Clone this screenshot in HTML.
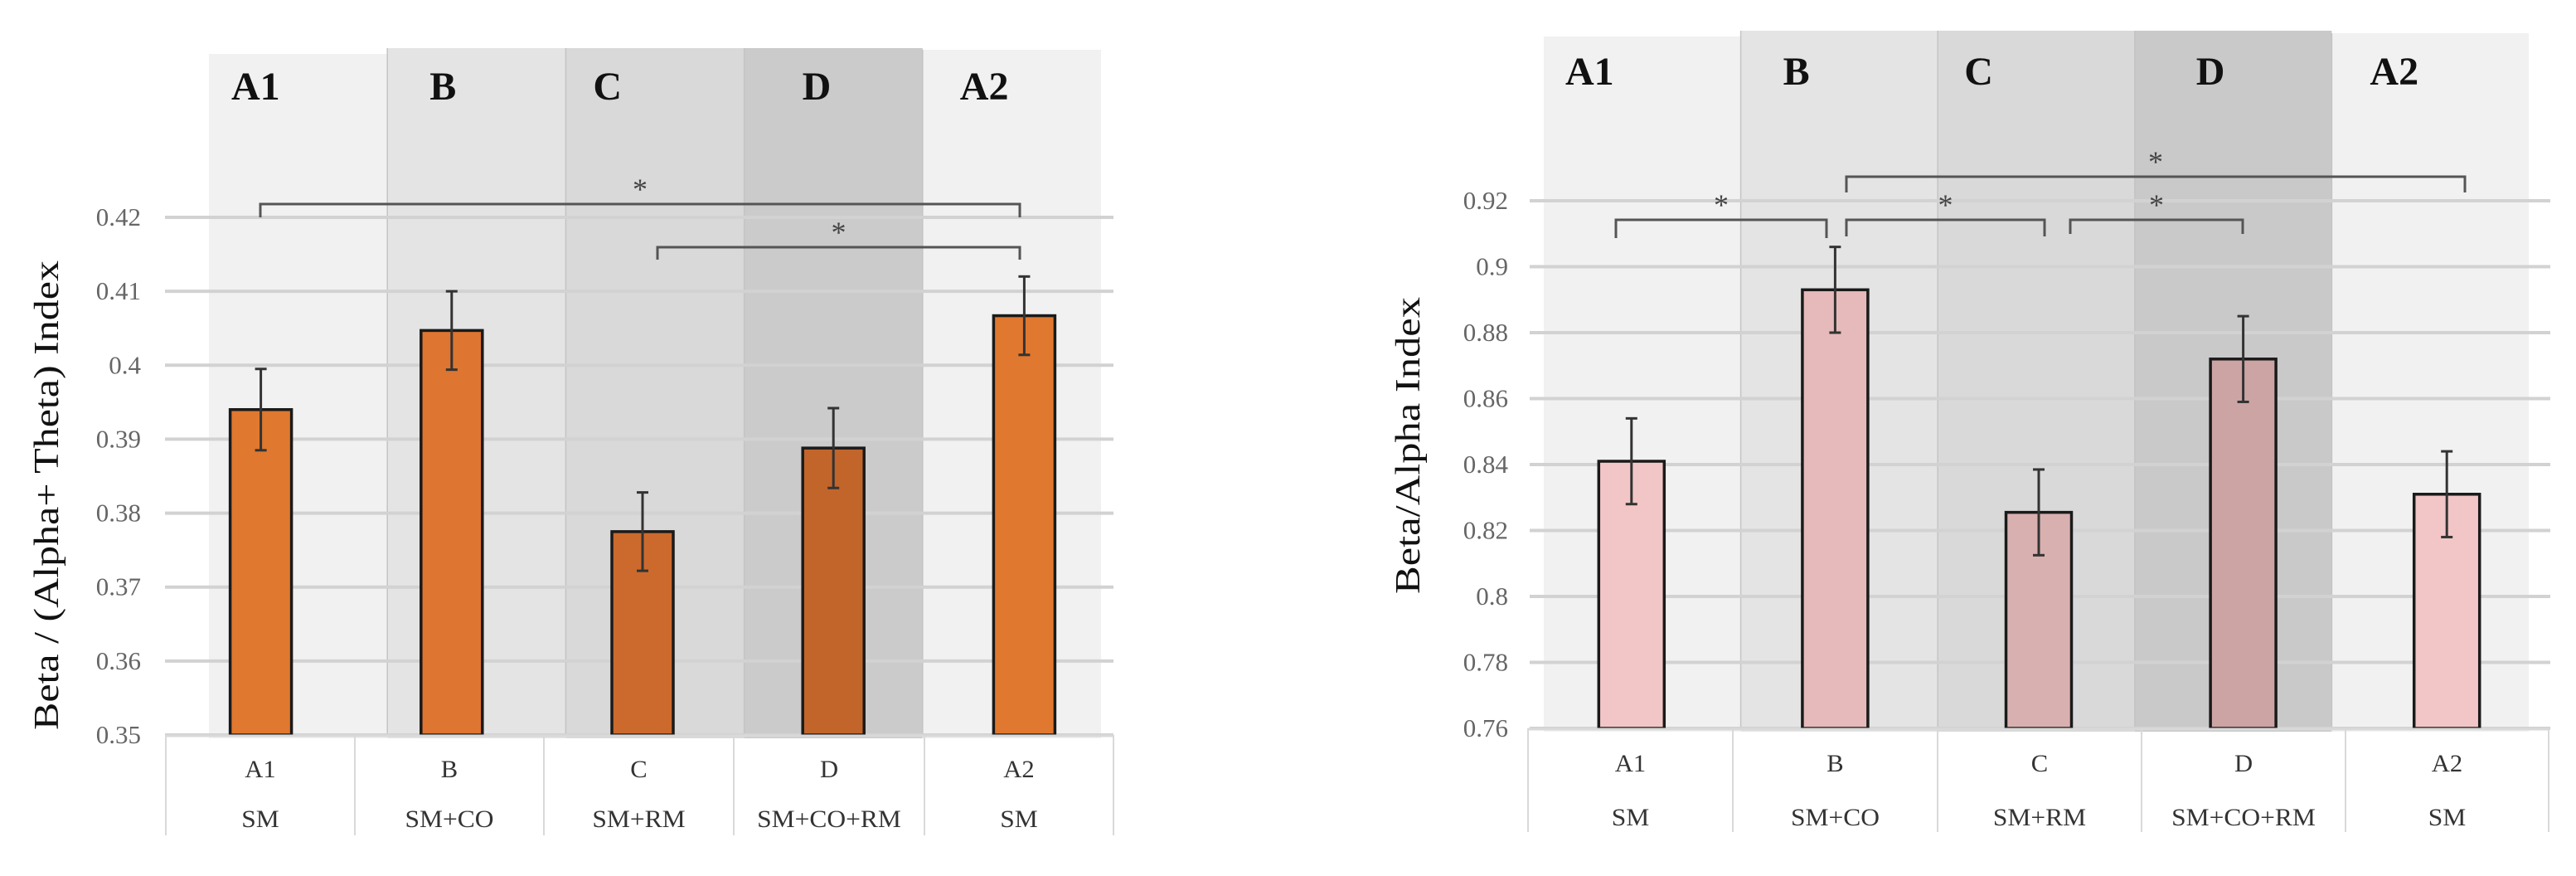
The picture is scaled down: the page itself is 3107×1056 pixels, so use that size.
<!DOCTYPE html>
<html><head><meta charset="utf-8">
<style>
html,body{margin:0;padding:0;background:#fff;}
svg{display:block;font-family:"Liberation Serif",serif;}
</style></head>
<body>
<svg id="svg" width="3107" height="1056" viewBox="0 0 3107 1056" xmlns="http://www.w3.org/2000/svg"></svg>
<script>
// ---- data ----
const categories = ["A1","B","C","D","A2"];
const conditions = ["SM","SM+CO","SM+RM","SM+CO+RM","SM"];
const leftValues = [0.394, 0.4047, 0.3775, 0.3888, 0.4067];
const leftErrors = [0.0055, 0.0053, 0.0053, 0.0054, 0.0053];
const leftTicks = ["0.35","0.36","0.37","0.38","0.39","0.4","0.41","0.42"];
const rightValues = [0.841, 0.893, 0.8255, 0.872, 0.831];
const rightErrors = [0.013, 0.013, 0.013, 0.013, 0.013];
const rightTicks = ["0.76","0.78","0.8","0.82","0.84","0.86","0.88","0.9","0.92"];
const leftSig = [[0,4,0],[2,4,1]];
const rightSig = [[0,1,1],[1,2,1],[2,3,1],[1,4,0]];

const NS="http://www.w3.org/2000/svg";
const svg=document.getElementById('svg');
function el(tag,attrs,parent){const e=document.createElementNS(NS,tag);for(const k in attrs)e.setAttribute(k,attrs[k]);(parent||svg).appendChild(e);return e;}
function txt(x,y,s,size,opts,parent){
  opts=opts||{};
  const g=el('g',{transform:`translate(${x},${y}) scale(${opts.sx||1},1)`},parent);
  const t=el('text',{x:0,y:0,'font-size':size,'text-anchor':opts.anchor||'middle',fill:opts.fill||'#333','font-weight':opts.weight||'normal'},g);
  t.textContent=s;return t;
}

function chart(cfg){
  const root=el('g',{});
  
  
  const yMin=cfg.yMin, yMax=cfg.yMax;
  const y=v=>cfg.y0-(v-yMin)/(yMax-yMin)*(cfg.y0-cfg.yTop);
  const bw=(cfg.bandR-cfg.bandL)/categories.length;
  const xc=i=>cfg.bandL+bw*(i+0.5)+cfg.barOff[i];
  categories.forEach((c,i)=>{
    const r=el('rect',{x:cfg.bandL+bw*i,y:cfg.bandTop[i],width:bw,height:cfg.y0-cfg.bandTop[i]+4,fill:cfg.bandFill[i]},root);
    
    
    if(i>0) el('line',{x1:cfg.bandL+bw*i,x2:cfg.bandL+bw*i,y1:cfg.bandTop[i],y2:cfg.y0,stroke:'#c4c4c4','stroke-width':1.5},root);
    const t=txt(cfg.bandL+bw*i+cfg.lblOff[i],cfg.lblY,c,48,{anchor:'start',weight:'bold',fill:'#111'},root);
    
    
  });
  cfg.ticks.forEach(tk=>{
    const v=parseFloat(tk);
    const l=el('line',{x1:cfg.gridL,x2:cfg.gridR,y1:y(v),y2:y(v),stroke:'#d2d2d2','stroke-width':4},root);
    
    
    const t=txt(cfg.tickR,y(v)+10,tk,31,{anchor:'end',fill:'#666'},root);
    
    
  });
  const yt=el('text',{x:0,y:0,'font-size':cfg.ytSize,'text-anchor':'middle',fill:'#111',transform:`translate(${cfg.ytX},${cfg.ytY}) rotate(-90)`,textLength:cfg.ytLen,lengthAdjust:'spacingAndGlyphs'},root);
  yt.textContent=cfg.ytitle;
  
  
  cfg.values.forEach((v,i)=>{
    const b=el('rect',{x:xc(i)-cfg.barW/2,y:y(v),width:cfg.barW,height:cfg.y0-y(v),fill:cfg.barFill[i],stroke:'#1a1a1a','stroke-width':3.5},root);
    
    
    const e=cfg.errors[i];
    const g=el('g',{stroke:'#333','stroke-width':3},root);
    
    
    el('line',{x1:xc(i),x2:xc(i),y1:y(v+e),y2:y(v-e)},g);
    el('line',{x1:xc(i)-7,x2:xc(i)+7,y1:y(v+e),y2:y(v+e)},g);
    el('line',{x1:xc(i)-7,x2:xc(i)+7,y1:y(v-e),y2:y(v-e)},g);
  });
  cfg.sig.forEach((s,k)=>{
    const p=cfg.sigPos[k];
    const g=el('g',{},root);
    
    
    el('polyline',{points:`${p[0]},${p[3]} ${p[0]},${p[2]} ${p[1]},${p[2]} ${p[1]},${p[3]}`,fill:'none',stroke:'#555','stroke-width':3},g);
    txt((p[0]+p[1])/2+(p[4]||0),p[2]-6,'*',36,{fill:'#444'},g);
  });
  const tb=el('g',{},root);
  
  
  el('line',{x1:cfg.tblX[0],x2:cfg.tblX[5],y1:cfg.y0+1,y2:cfg.y0+1,stroke:'#d9d9d9','stroke-width':3},tb);
  cfg.tblX.forEach(x=>el('line',{x1:x,x2:x,y1:cfg.y0,y2:cfg.tblBot,stroke:'#d9d9d9','stroke-width':2},tb));
  categories.forEach((c,i)=>{
    const cx=(cfg.tblX[i]+cfg.tblX[i+1])/2;
    const a=txt(cx,cfg.row1,c,30,{sx:1.02,fill:'#333'},tb);
    
    
    const b=txt(cx,cfg.row2,conditions[i],30,{sx:1.05,fill:'#333'},tb);
    
    
  });
}

chart({name:'left-chart',yMin:0.35,yMax:0.42,y0:886,yTop:262,ticks:leftTicks,values:leftValues,errors:leftErrors,
  bandL:252,bandR:1328,bandTop:[65,58,58,58,60],bandFill:['#f1f1f1','#e4e4e4','#d9d9d9','#cbcbcb','#f1f1f1'],
  barOff:[-45,-30,-15,-0,15],barW:74,barFill:['#e0782f','#de7530','#cc6a2d','#c2652b','#e0782f'],
  lblOff:[27,51,33,70,45],lblY:120,gridL:199,gridR:1343,tickR:170,
  ytitle:'Beta / (Alpha+ Theta) Index',ytX:70,ytY:597,ytSize:42,ytLen:566,
  sig:leftSig,sigPos:[[314,1230,246,262,0],[793,1230,298,313,0]],
  tblX:[200,428,656,885,1115,1343],tblBot:1007,row1:937,row2:997});

chart({name:'right-chart',yMin:0.76,yMax:0.92,y0:878,yTop:242,ticks:rightTicks,values:rightValues,errors:rightErrors,
  bandL:1862,bandR:3050,bandTop:[44,37,37,37,40],bandFill:['#f1f1f1','#e4e4e4','#d9d9d9','#c9c9c9','#f1f1f1'],
  barOff:[-13,-5,3,12,20],barW:79,barFill:['#f2c6c6','#e6baba','#d9b0b0','#cca4a4','#f2c6c6'],
  lblOff:[26,51,32,74,46],lblY:102,gridL:1845,gridR:3076,tickR:1819,
  ytitle:'Beta/Alpha Index',ytX:1712,ytY:537,ytSize:42,ytLen:358,
  sig:rightSig,sigPos:[[1949,2203,265,287,0],[2227,2466,265,285,0],[2497,2705,265,282,0],[2227,2973,213,232,0]],
  tblX:[1843,2090,2337,2583,2829,3074],tblBot:1003,row1:930,row2:995});
</script>
</body></html>
